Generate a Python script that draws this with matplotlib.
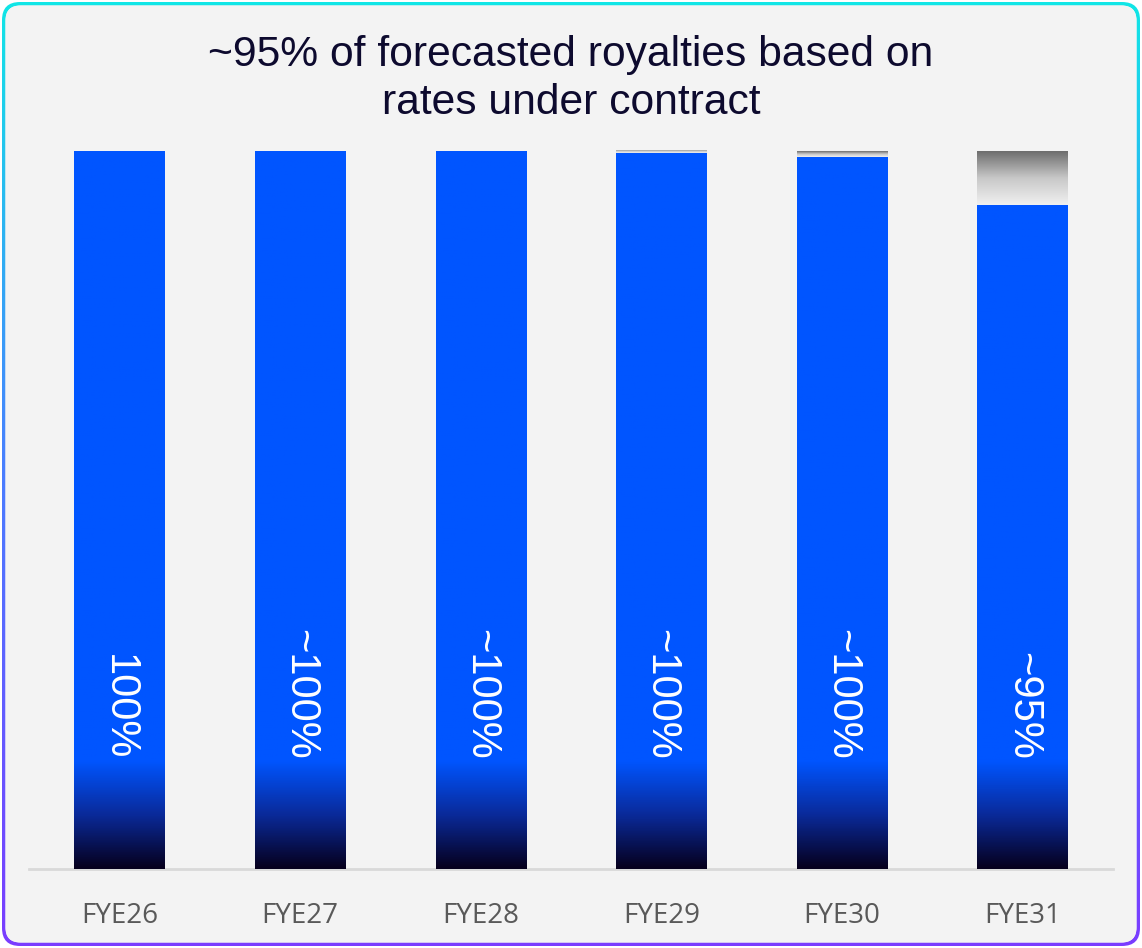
import matplotlib
matplotlib.use('Agg')
import matplotlib.pyplot as plt
import numpy as np
from matplotlib.patches import FancyBboxPatch
from matplotlib.colors import LinearSegmentedColormap

# data (% of forecasted royalties)
years = ['FYE26', 'FYE27', 'FYE28', 'FYE29', 'FYE30', 'FYE31']
under_contract = [100, 100, 100, 99.7, 99.2, 92.5]
other = [0, 0, 0, 0.5, 0.8, 7.5]
labels = ['100%', '~100%', '~100%', '~100%', '~100%', '~95%']
title = '~95% of forecasted royalties based on\nrates under contract'

W, H = 1142, 948
fig = plt.figure(figsize=(W / 100, H / 100), dpi=100)

# background with gradient rounded border
bg = fig.add_axes([0, 0, 1, 1])
bg.set_xlim(0, W)
bg.set_ylim(0, H)
bg.axis('off')
border_cmap = LinearSegmentedColormap.from_list('b', ['#7a3cff', '#4a7dff', '#10e6e6'])
outer = FancyBboxPatch((2, 2), W - 4, H - 4, boxstyle='round,pad=0,rounding_size=18',
                       facecolor='none', edgecolor='none')
bg.add_patch(outer)
grad = np.linspace(0, 1, 256).reshape(-1, 1)
im = bg.imshow(grad, cmap=border_cmap, extent=[0, W, 0, H], origin='lower', aspect='auto')
im.set_clip_path(outer)
inner = FancyBboxPatch((5.5, 5.5), W - 11, H - 11, boxstyle='round,pad=0,rounding_size=15',
                       facecolor='#f3f3f3', edgecolor='none')
bg.add_patch(inner)
yy, xx = np.mgrid[0:1:100j, 0:1:100j]
shade = 0.5 * (xx + yy)
bg_cmap = LinearSegmentedColormap.from_list('g', ['#f2f2f2', '#f2f2f2', '#f9f9f9'])
im2 = bg.imshow(shade, cmap=bg_cmap, extent=[5, W - 5, 5, H - 5], origin='lower', aspect='auto')
im2.set_clip_path(inner)

fig.text(0.5, 0.9167, title, ha='center', va='center', fontsize=30.7,
         family='Liberation Sans', color='#0d0a2e', linespacing=1.28)

ax = fig.add_axes([0.0254, 0.0833, 0.9492, 0.7574])
ax.set_facecolor('none')
x = np.arange(len(years))
blue_bars = ax.bar(x, under_contract, width=0.5, color='#0055ff', zorder=2)
gray_bars = ax.bar(x, other, width=0.5, bottom=under_contract, color='#b0b0b0', zorder=2)

blue_cmap = LinearSegmentedColormap.from_list('bl', ['#06001e', '#0a2a9a', '#0055ff', '#0055ff'])
gray_cmap = LinearSegmentedColormap.from_list('gr', ['#f0f0f0', '#c8c8c8', '#6e6e6e'])
for xi, b, g in zip(x, blue_bars, gray_bars):
    top = b.get_height()
    # blue bar: solid, with dark fade in the bottom ~15%
    v = np.linspace(0, top, 300)
    col = np.clip(v / 15.0, 0, 1) * 0.67
    col[v > 15] = 1.0
    img = ax.imshow(col.reshape(-1, 1), cmap=blue_cmap, vmin=0, vmax=1, origin='lower',
                    extent=[xi - 0.25, xi + 0.25, 0, top], aspect='auto', zorder=3)
    img.set_clip_path(b)
    if g.get_height() > 0:
        gi = ax.imshow(np.linspace(0, 1, 100).reshape(-1, 1), cmap=gray_cmap, origin='lower',
                       extent=[xi - 0.25, xi + 0.25, top, top + g.get_height()],
                       aspect='auto', zorder=3)
        gi.set_clip_path(g)

for xi, lab in zip(x, labels):
    ax.text(xi, 15.2, lab, rotation=270, ha='center', va='bottom', color='white',
            fontsize=30, family='Liberation Sans', zorder=4)

ax.set_xlim(-0.5, 5.5)
ax.set_ylim(0, 100)
ax.set_xticks(x)
ax.set_xticklabels(years, fontsize=20, family='Open Sans', color='#595959')
ax.tick_params(axis='x', length=0, pad=24)
ax.set_yticks([])
for s in ['top', 'right', 'left']:
    ax.spines[s].set_visible(False)
ax.spines['bottom'].set_color('#d9d9d9')
ax.spines['bottom'].set_linewidth(2)
ax.spines['bottom'].set_zorder(1)

fig.savefig('out.png', dpi=100)
